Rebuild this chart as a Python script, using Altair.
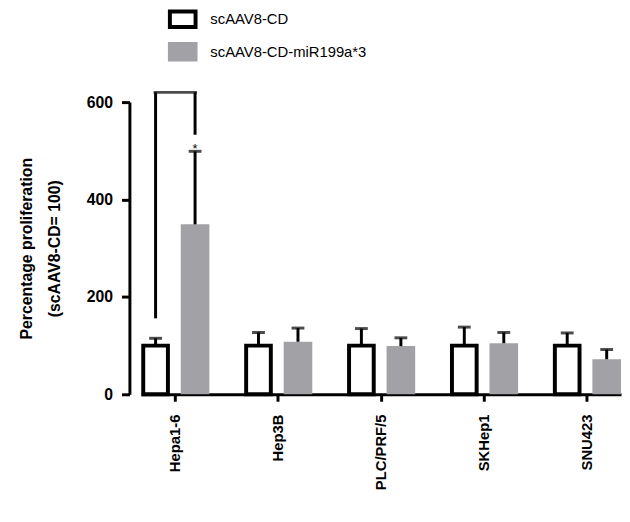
import altair as alt
import pandas as pd

cells = ["Hepa1-6", "Hep3B", "PLC/PRF/5", "SKHep1", "SNU423"]
series = ["scAAV8-CD", "scAAV8-CD-miR199a*3"]
cd_mean = [100, 100, 100, 100, 100]
cd_upper = [115, 127, 135, 138, 126]
mir_mean = [349, 108, 99, 105, 72]
mir_upper = [499, 136, 116, 127, 92]

# significance bracket (Hepa1-6)
br_cell = "Hepa1-6"
br_top = 620
br_left_bottom = 156
br_right_bottom = 533
star_y = 503

rows = []
for c, m, u in zip(cells, cd_mean, cd_upper):
    rows.append({"cell": c, "series": series[0], "value": m, "upper": u})
for c, m, u in zip(cells, mir_mean, mir_upper):
    rows.append({"cell": c, "series": series[1], "value": m, "upper": u})
df = pd.DataFrame(rows)

bracket_legs = pd.DataFrame([
    {"cell": br_cell, "series": series[0], "y": br_left_bottom, "y2": br_top},
    {"cell": br_cell, "series": series[1], "y": br_right_bottom, "y2": br_top},
])
bracket_top = pd.DataFrame([{"cell": br_cell, "y": br_top}])
star = pd.DataFrame([{"cell": br_cell, "series": series[1], "y": star_y, "t": "*"}])

FONT = "Liberation Sans"
GRAY = "#a2a2a6"

xscale = alt.Scale(domain=cells, range=[12, 498], paddingInner=0.338, paddingOuter=0)
xoff = alt.Scale(domain=series, paddingInner=0.275, paddingOuter=0)
yscale = alt.Scale(domain=[0, 600], nice=False)

x = alt.X("cell:N", scale=xscale, sort=cells, title=None,
          axis=alt.Axis(labelAngle=-90, labelFont=FONT, labelFontWeight="bold",
                        labelFontSize=15, labelColor="black", labelPadding=13,
                        tickSize=7, tickWidth=3, tickColor="black",
                        domainWidth=3, domainColor="black", labelAlign="right",
                        labelBaseline="middle", grid=False))
xo = alt.XOffset("series:N", scale=xoff, sort=series)
y = alt.Y("value:Q", scale=yscale,
          title=["Percentage proliferation", "(scAAV8-CD= 100)"],
          axis=alt.Axis(values=[0, 200, 400, 600], labelFont=FONT, labelFontWeight="bold",
                        labelFontSize=16, labelColor="black", labelPadding=9,
                        tickSize=8, tickWidth=3, tickColor="black",
                        domainWidth=3, domainColor="black", grid=False,
                        titleFont=FONT, titleFontWeight="bold", titleFontSize=16,
                        titleColor="black", titleLineHeight=28,
                        titleX=-99, titleY=148, titleBaseline="alphabetic",
                        titleAlign="center", titleAngle=270))

fill = alt.Fill("series:N", scale=alt.Scale(domain=series, range=["white", GRAY]),
                sort=series, title=None,
                legend=alt.Legend(orient="none", legendX=39, legendY=-99,
                                  symbolType="M-1,-0.6H1V0.6H-1Z", symbolSize=676,
                                  symbolStrokeWidth=4, labelFont=FONT, labelFontSize=15,
                                  labelColor="black", labelOffset=13, rowPadding=1,
                                  symbolOpacity=1))
stroke = alt.Stroke("series:N", scale=alt.Scale(domain=series, range=["black", GRAY]),
                    sort=series, title=None)

base = alt.Chart(df)

white_bars = base.transform_filter(alt.datum.series == series[0]).mark_bar(
    width=25, stroke="black", strokeWidth=4
).encode(x=x, xOffset=xo, y=y, fill=fill, stroke=stroke)

gray_bars = base.transform_filter(alt.datum.series == series[1]).mark_bar(
    width=29, strokeWidth=0
).encode(x=x, xOffset=xo, y=y, fill=fill, stroke=stroke)

err_rule = base.mark_rule(color="black", strokeWidth=3).encode(
    x=x, xOffset=xo, y="value:Q", y2="upper:Q")
err_cap = base.mark_tick(color="black", thickness=3, size=13, orient="horizontal").encode(
    x=x, xOffset=xo, y="upper:Q")

legs = alt.Chart(bracket_legs).mark_rule(color="black", strokeWidth=3).encode(
    x=x, xOffset=xo, y=alt.Y("y:Q", scale=yscale), y2="y2:Q")
top = alt.Chart(bracket_top).mark_tick(color="black", thickness=3, size=44,
                                        orient="horizontal").encode(
    x=x, y=alt.Y("y:Q", scale=yscale))
star_t = alt.Chart(star).mark_text(font=FONT, fontSize=13, color="black",
                                    baseline="middle").encode(
    x=x, xOffset=xo, y=alt.Y("y:Q", scale=yscale), text="t:N")

chart = alt.layer(white_bars, gray_bars, err_rule, err_cap, legs, top, star_t).properties(
    width=499, height=296,
    background="white",
    autosize=alt.AutoSizeParams(type="none"),
    padding={"left": 123, "top": 92, "right": 0, "bottom": 126},
).configure_view(stroke=None).configure_axis(grid=False)

chart.save("out.html", embed_options={"renderer": "svg", "actions": False})
